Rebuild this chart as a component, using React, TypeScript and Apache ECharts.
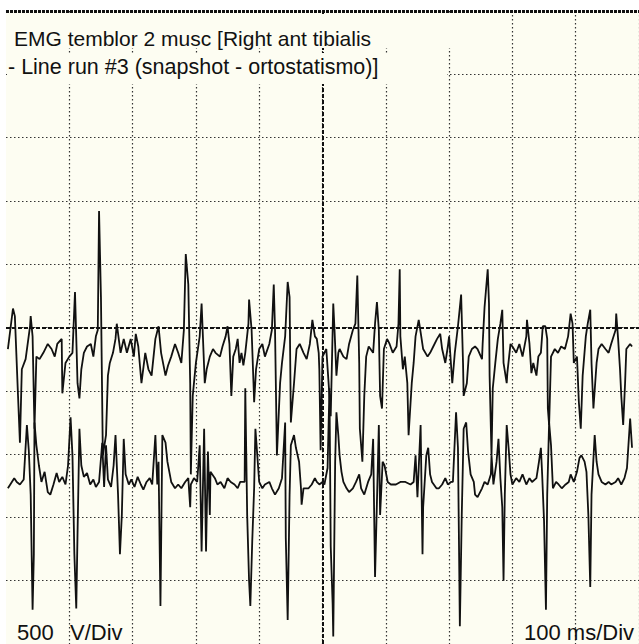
import React, { useEffect, useRef } from "react";
import * as echarts from "echarts";

// time in ms (100 ms/Div), amplitude in µV (500 µV/Div)
const xTicks = { min: 0, max: 1000, interval: 100 };
const yTicks = { min: -2500, max: 2500, interval: 500 };

const titleLines = [
  "EMG temblor 2 musc [Right ant tibialis",
  "- Line run #3 (snapshot - ortostatismo)]",
];
const ampLabel = ["500", "V/Div"];
const timeLabel = "100 ms/Div";

const upperTrace: [number, number][] = [
  [3,-170],[11,150],[14,90],[19,-540],[22,-910],[25,-330],[31,-250],[38,10],[39,90],[42,-70],[45,-800],[48,-230],[53,-250],[59,-200],[66,-130],[72,-170],[77,-230],[81,-130],[88,-90],[89,-520],[94,-280],[100,-230],[105,-200],[109,280],[113,-440],[116,-560],[119,-330],[123,-200],[128,-150],[134,-130],[138,-230],[142,-70],[145,-20],[147,920],[150,240],[153,-1010],[158,-850],[161,-380],[164,-280],[169,-200],[173,-90],[175,30],[181,-200],[186,-90],[191,-200],[197,-90],[202,-230],[205,-50],[209,-150],[214,-440],[220,-200],[225,-330],[230,-380],[236,-90],[241,10],
  [245,-200],[252,-380],[256,-300],[261,-230],[267,-130],[272,-200],[277,-280],[281,-20],[284,580],[288,340],[291,-440],[292,-1160],[295,-540],[300,-280],[306,-70],[309,190],[314,-440],[317,-330],[322,-230],[327,-170],[331,-200],[338,-230],[342,-150],[347,-70],[350,10],[353,-130],[356,-540],[359,-230],[363,-170],[366,-90],[369,-280],[372,-200],[375,-300],[378,-200],[383,30],[384,220],[388,-20],[391,-440],[392,-590],[395,-330],[400,-170],[405,-130],[409,-230],[416,-130],[420,-20],[423,340],[425,-20],[428,-1010],[433,-440],[436,-280],[441,-70],[445,360],[448,240],[450,-750],[455,-440],[459,-170],[464,-130],[470,-200],[475,-250],[480,-130],[484,60],[488,-70],
  [491,-90],[494,-200],[495,-330],[497,-970],[500,-230],[503,-200],[506,-170],[511,-540],[513,-700],[517,190],[519,-20],[522,-380],[525,-200],[527,-170],[533,-230],[538,-250],[542,-130],[548,-20],[552,30],[555,410],[558,-280],[559,-800],[563,-1060],[566,-540],[569,-230],[573,-150],[580,-200],[583,30],[586,200],[589,-20],[591,-540],[594,-640],[597,-170],[602,-90],[606,-130],[611,-200],[617,-150],[620,30],[622,460],[623,-70],[627,-330],[630,-230],[634,-440],[636,-850],[641,-440],[644,-280],[647,-70],[652,60],[656,-70],[659,-170],[666,-230],[670,-200],[675,-150],[681,-90],[686,-50],[689,-170],[694,-280],[698,-150],[700,-70],[705,-440],[709,-200],[714,10],[719,260],[722,-280],[723,-540],[728,-440],[731,-230],[736,-170],
  [741,-150],[745,-170],[752,-250],[753,-130],[756,160],[761,460],[763,190],[764,-380],[767,-1010],[769,-480],[773,-280],[777,-90],[781,30],[784,140],[786,-280],[791,-440],[792,-360],[797,-130],[800,-150],[806,-200],[811,-130],[816,-230],[822,-70],[823,60],[827,-130],[830,-360],[833,-280],[838,-380],[841,-230],[845,-200],[848,10],[852,10],[855,-90],[856,-640],[858,-770],[861,-230],[867,-170],[872,-200],[877,-150],[883,-170],[888,-70],[892,110],[895,30],[897,-280],[902,-230],[905,-590],[908,-800],[911,-380],[916,-70],[919,30],[923,140],[925,-280],[928,-640],[933,-280],[936,-170],[941,-130],[947,-170],[952,-200],[956,-130],[963,-20],[964,110],[967,-90],[970,-330],[972,-540],[975,-770],[978,-440],[980,-170],[986,-130],[989,-150],
];

const lowerTrace: [number, number][] = [
  [3,-1270],[8,-1230],[13,-1190],[17,-1220],[22,-1240],[28,-1200],[33,-770],[36,-970],[39,-1320],[42,-2230],[44,-1790],[45,-750],[48,-930],[52,-1090],[56,-1220],[61,-1140],[66,-1300],[70,-1320],[75,-1240],[80,-1150],[84,-1220],[89,-1180],[94,-1240],[98,-1090],[102,-710],[105,-1010],[108,-1790],[111,-2220],[113,-1630],[116,-800],[119,-1090],[123,-1180],[128,-1150],[133,-1240],[138,-1200],[142,-1260],[147,-1220],[152,-910],[155,-1260],[158,-930],[161,-1200],[166,-1260],[170,-1090],[173,-850],[177,-1320],[180,-1790],[183,-1480],[186,-880],[189,-1160],[194,-1240],[198,-1200],[203,-1260],[208,-1180],[213,-1240],[217,-1280],[222,-1220],[227,-1190],[231,-1240],[236,-850],[239,-1240],
  [241,-1060],[244,-2200],[247,-850],[252,-910],[255,-1060],[261,-1220],[267,-1270],[272,-1240],[277,-1270],[283,-1220],[288,-1190],[291,-1420],[292,-1240],[297,-1190],[302,-1220],[306,-930],[309,-1770],[313,-800],[316,-1770],[319,-980],[322,-1480],[323,-1140],[330,-1190],[334,-1240],[339,-1220],[345,-1270],[350,-1190],[355,-1220],[361,-1240],[366,-1270],[370,-1220],[377,-1220],[378,-480],[381,-1480],[384,-2000],[386,-2200],[389,-1690],[392,-1270],[394,-800],[397,-1010],[400,-1220],[405,-1270],[409,-1240],[416,-1220],[420,-1270],[425,-1320],[431,-1270],[436,-1190],[441,-750],[442,-1660],[445,-2310],[448,-1320],[450,-930],[455,-850],[458,-950],[463,-1060],[466,-1270],[467,-1400],[470,-1270],[478,-1270],[483,-1240],[488,-1190],
  [491,-1220],[495,-1240],[500,-1220],[503,-1240],[508,-1110],[511,-480],[513,-1730],[516,-2180],[517,-2440],[520,-1060],[522,-670],[525,-850],[527,-1010],[530,-1140],[533,-1220],[538,-1270],[542,-1300],[548,-1270],[553,-1220],[558,-1160],[561,-1270],[566,-1320],[572,-1220],[577,-1160],[580,-880],[583,-1970],[586,-1380],[589,-770],[591,-1480],[595,-1060],[598,-1090],[603,-1220],[608,-1240],[616,-1240],[623,-1220],[631,-1220],[639,-1240],[644,-1220],[647,-1010],[650,-1340],[652,-1110],[655,-770],[658,-1790],[659,-1420],[664,-1010],[667,-950],[670,-1160],[673,-1220],[680,-1270],[684,-1270],[689,-1240],[694,-1190],[698,-1240],[703,-1220],[706,-1220],[711,-670],[714,-950],[717,-2360],[720,-1480],[723,-800],[727,-750],[730,-980],[734,-1160],[739,-1220],
  [741,-1320],[745,-1340],[752,-1270],[756,-1220],[761,-1240],[766,-1160],[767,-1010],[770,-1240],[775,-1060],[778,-880],[781,-1190],[784,-1420],[786,-2000],[788,-1320],[791,-770],[794,-950],[797,-1160],[800,-1240],[806,-1190],[811,-1220],[816,-1160],[822,-1240],[827,-1190],[831,-1220],[838,-1190],[842,-1060],[845,-950],[847,-1160],[850,-1530],[853,-2230],[855,-1320],[858,-750],[861,-930],[864,-1270],[869,-1220],[873,-1240],[878,-1270],[884,-1240],[889,-1220],[892,-1160],[897,-1220],[902,-1140],[906,-1030],[909,-1010],[914,-1060],[917,-1140],[920,-1480],[923,-2050],[925,-1320],[930,-850],[933,-1060],[936,-1160],[941,-1220],[947,-1240],[952,-1220],[956,-1240],[963,-1220],[967,-1190],[972,-1240],[977,-1190],[981,-1110],[986,-720],[989,-950],
];

const PAPER = "#fdfdf2";
const INK = "#111111";
const FONT = '"Liberation Sans", Arial, Helvetica, sans-serif';

export default function App() {
  const ref = useRef<HTMLDivElement>(null);
  useEffect(() => {
    if (!ref.current) return;
    const chart = echarts.init(ref.current, undefined, { renderer: "svg" });
    const gridLine = { color: "#333", width: 1.2, type: [1.5, 2.5] as number[] };
    const traceStyle = { color: INK, width: 1.8 };
    chart.setOption({
      animation: false,
      backgroundColor: "#ffffff",
      grid: { left: 6, top: 11, width: 640, height: 640, show: true, backgroundColor: PAPER, borderWidth: 0 },
      xAxis: {
        type: "value", ...xTicks,
        axisLine: { show: false }, axisTick: { show: false }, axisLabel: { show: false },
        splitLine: { show: true, showMinLine: false, lineStyle: gridLine },
      },
      yAxis: {
        type: "value", ...yTicks,
        axisLine: { show: false }, axisTick: { show: false }, axisLabel: { show: false },
        splitLine: { show: true, showMinLine: false, lineStyle: gridLine },
      },
      series: [
        {
          type: "line", data: upperTrace, showSymbol: false, symbol: "none",
          lineStyle: traceStyle, z: 3,
          markLine: {
            silent: true, symbol: ["none", "none"], label: { show: false },
            lineStyle: { color: INK, width: 2, type: [4, 2] },
            data: [
              { xAxis: 500 },
              { yAxis: 0 },
              { yAxis: 2500, lineStyle: { color: INK, width: 3, type: [3, 1] } },
            ],
          },
        },
        { type: "line", data: lowerTrace, showSymbol: false, symbol: "none", lineStyle: traceStyle, z: 3 },
      ],
      graphic: [
        { type: "rect", z: 50, shape: { x: 7, y: 14, width: 463, height: 34 }, style: { fill: PAPER } },
        { type: "rect", z: 50, shape: { x: 7, y: 53, width: 440, height: 31 }, style: { fill: PAPER } },
        { type: "text", z: 60, x: 14, y: 38, style: { text: titleLines[0], fontSize: 21, fontFamily: FONT, fill: INK, verticalAlign: "middle" } },
        { type: "text", z: 60, x: 8, y: 67, style: { text: titleLines[1], fontSize: 21.5, fontFamily: FONT, fill: INK, verticalAlign: "middle" } },
        { type: "text", z: 60, x: 17, y: 632, style: { text: ampLabel[0], fontSize: 22, fontFamily: FONT, fill: INK, verticalAlign: "middle" } },
        { type: "text", z: 60, x: 70, y: 632, style: { text: ampLabel[1], fontSize: 22, fontFamily: FONT, fill: INK, verticalAlign: "middle" } },
        { type: "text", z: 60, x: 524, y: 632, style: { text: timeLabel, fontSize: 22, fontFamily: FONT, fill: INK, verticalAlign: "middle" } },
      ],
    });
    return () => chart.dispose();
  }, []);
  return <div ref={ref} style={{ position: "fixed", left: 0, top: 0, width: 639, height: 644 }} />;
}
